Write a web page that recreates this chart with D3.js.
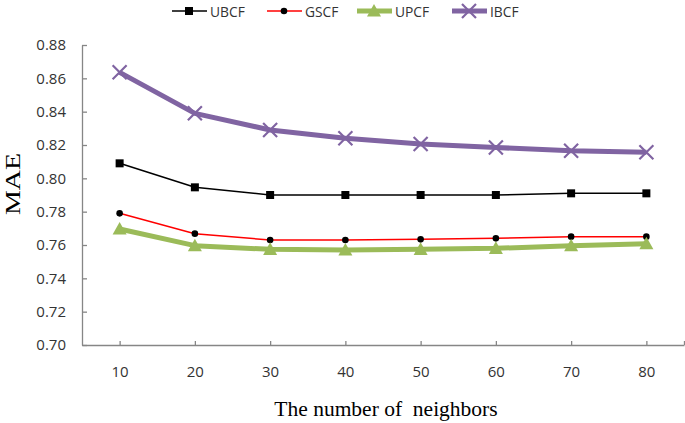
<!DOCTYPE html>
<html>
<head>
<meta charset="utf-8">
<script src="https://cdn.jsdelivr.net/npm/d3@7"></script>
<style>
  body { margin: 0; background: #fff; }
  .tick text { font-family: "Open Sans", sans-serif; font-size: 15px; fill: #333; }
</style>
</head>
<body>
<div class="canvas"></div>
<script>
// data
const neighbors = [10, 20, 30, 40, 50, 60, 70, 80];
const ubcf = [0.809, 0.7946, 0.790, 0.790, 0.790, 0.790, 0.791, 0.791];
const gscf = [0.779, 0.7668, 0.763, 0.763, 0.7634, 0.764, 0.765, 0.765];
const upcf = [0.7696, 0.7596, 0.7574, 0.757, 0.7574, 0.758, 0.7596, 0.7608];
const ibcf = [0.8636, 0.839, 0.829, 0.824, 0.8206, 0.8185, 0.8165, 0.8157];
const yTicks = [0.70, 0.72, 0.74, 0.76, 0.78, 0.80, 0.82, 0.84, 0.86, 0.88];

const series = [
    { name: 'UBCF', values: ubcf, color: '#000', width: 1.5, marker: 'square' },
    { name: 'GSCF', values: gscf, color: '#ff0000', width: 1.5, marker: 'circle' },
    { name: 'UPCF', values: upcf, color: '#9bbb59', width: 5, marker: 'triangle' },
    { name: 'IBCF', values: ibcf, color: '#8064a2', width: 5, marker: 'cross' }
];

const W = 685, H = 423;
const svg = d3.select('.canvas')
    .append('svg')
    .attr('width', W)
    .attr('height', H);

const plotLeft = 82, plotRight = 684, plotTop = 45, plotBottom = 345;

const x = d3.scaleLinear().domain([5, 85]).range([plotLeft, plotRight]);
const y = d3.scaleLinear().domain([0.70, 0.88]).range([plotBottom, plotTop]);

//==== axes ====
const axisColor = '#868686';
const xAxis = d3.axisBottom(x)
    .tickValues(neighbors.concat([85]))
    .tickSize(-4)
    .tickSizeOuter(0)
    .tickPadding(21)
    .tickFormat(d => d === 85 ? '' : d);
const yAxis = d3.axisLeft(y)
    .tickValues(yTicks)
    .tickSize(-5)
    .tickSizeOuter(0)
    .tickPadding(16)
    .tickFormat(d3.format('.2f'));

const xg = svg.append('g').attr('transform', `translate(0,${plotBottom})`).call(xAxis);
const yg = svg.append('g').attr('transform', `translate(${plotLeft},0)`).call(yAxis);
[xg, yg].forEach(g => {
    g.selectAll('path, line').attr('stroke', axisColor).attr('stroke-width', 1.3);
});

//==== lines ====
const line = d3.line()
    .x((d, i) => x(neighbors[i]))
    .y(d => y(d));

const drawMarker = (g, type, cx, cy, color) => {
    if (type === 'square') {
        g.append('rect').attr('x', cx - 4).attr('y', cy - 4)
            .attr('width', 8).attr('height', 8).attr('fill', '#000');
    } else if (type === 'circle') {
        g.append('circle').attr('cx', cx).attr('cy', cy).attr('r', 3.3).attr('fill', '#000');
    } else if (type === 'triangle') {
        const s = 7;
        g.append('path')
            .attr('d', `M${cx},${cy - s}L${cx + s},${cy + s * 0.8}L${cx - s},${cy + s * 0.8}Z`)
            .attr('fill', color);
    } else if (type === 'cross') {
        const s = 7;
        g.append('path')
            .attr('d', `M${cx - s},${cy - s}L${cx + s},${cy + s}M${cx - s},${cy + s}L${cx + s},${cy - s}`)
            .attr('stroke', color).attr('stroke-width', 2.2).attr('fill', 'none');
    }
};

const plot = svg.append('g');
series.forEach(s => {
    const g = plot.append('g');
    g.append('path')
        .datum(s.values)
        .attr('d', line)
        .attr('fill', 'none')
        .attr('stroke', s.color)
        .attr('stroke-width', s.width)
        .attr('stroke-linejoin', 'round');
    s.values.forEach((v, i) => drawMarker(g, s.marker, x(neighbors[i]), y(v), s.color));
});

//==== legend ====
const legendX = [172, 267, 357, 452];
const legend = svg.append('g');
series.forEach((s, i) => {
    const g = legend.append('g').attr('transform', `translate(${legendX[i]},11)`);
    g.append('line').attr('x1', 0).attr('x2', 35).attr('y1', 0).attr('y2', 0)
        .attr('stroke', s.color).attr('stroke-width', s.width);
    drawMarker(g, s.marker, 17, 0, s.color);
    g.append('text')
        .attr('transform', 'translate(38,6) scale(0.92,1)')
        .attr('font-family', '"Open Sans", sans-serif')
        .attr('font-size', 15)
        .attr('fill', '#333')
        .text(s.name);
});

//==== titles ====
svg.append('text')
    .attr('transform', 'translate(20,184) rotate(-90)')
    .attr('text-anchor', 'middle')
    .attr('font-family', '"Liberation Serif", "Times New Roman", serif')
    .attr('font-size', 20)
    .attr('textLength', 62)
    .attr('lengthAdjust', 'spacingAndGlyphs')
    .text('MAE');

svg.append('text')
    .attr('x', 386).attr('y', 416)
    .attr('text-anchor', 'middle')
    .attr('font-family', '"Liberation Serif", "Times New Roman", serif')
    .attr('font-size', 21.5)
    .style('white-space', 'pre')
    .text('The number of  neighbors');
</script>
</body>
</html>
